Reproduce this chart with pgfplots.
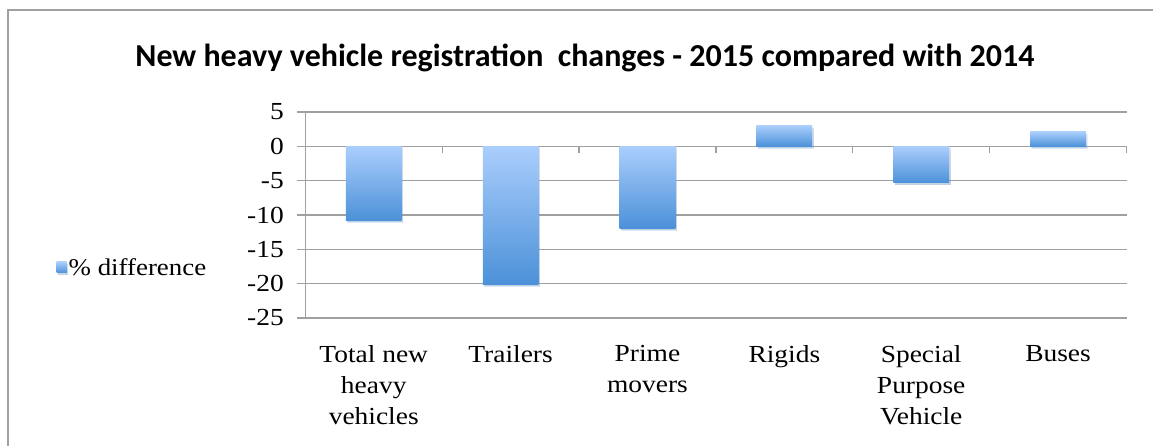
\documentclass[border=0pt]{standalone}
\usepackage{fontspec}
\setmainfont{Liberation Serif}[FakeStretch=1.12]
\newfontfamily\titlefont{Carlito}
\usepackage{pgfplots}
\pgfplotsset{compat=1.18}
\usetikzlibrary{shadows}
\definecolor{gridgray}{RGB}{160,160,160}
\definecolor{bartop}{RGB}{170,206,252}
\definecolor{barbot}{RGB}{76,145,217}
\pgfplotsset{
  mybar/.style={ybar, bar width=0.407, bar shift=0pt, draw=none, top color=bartop, bottom color=barbot,
    drop shadow={opacity=0.22, shadow xshift=1.5pt, shadow yshift=-2pt}},
}
\begin{document}
\begin{tikzpicture}[x=1pt,y=1pt]
\path[use as bounding box] (0,0) rectangle (1153,446);
\draw[gridgray, line width=2pt] (8.3,0) -- (8.3,436) -- (1153,436);
\node[anchor=base, font=\titlefont\bfseries\fontsize{32}{36}\selectfont] at (585,379.3) {New heavy vehicle registration\ \ changes - 2015 compared with 2014};
\begin{axis}[
  at={(305.3pt,128pt)}, anchor=south west,
  scale only axis, width=821.2pt, height=206pt,
  xmin=-0.5, xmax=5.5, ymin=-25, ymax=5,
  ytick={-25,-20,...,5},
  xtick={0,1,2,3,4,5},
  xticklabels={{Total new\\heavy\\vehicles},{Trailers},{Prime\\movers},{Rigids},{Special\\Purpose\\Vehicle},{Buses}},
  xticklabel style={align=center, anchor=north, yshift=-24pt, font=\fontsize{24.5}{31}\selectfont},
  yticklabel style={font=\fontsize{24.5}{29}\selectfont, xshift=-10pt},
  /pgf/number format/assume math mode=true,
  axis x line*=bottom,
  x axis line style={draw=none},
  xtick style={draw=none},
  axis y line*=left,
  y axis line style={gridgray, line width=1.3pt},
  ymajorgrids, grid style={gridgray, line width=1.3pt},
  major tick length=8pt,
  ytick style={gridgray, line width=1.3pt},
  ytick align=outside,
  legend style={at={(-0.118,0.243)}, anchor=east, draw=none, fill=none, font=\fontsize{24}{29}\selectfont, inner sep=0pt},
  legend image code/.code={\fill[barbot!70!bartop] (0pt,-5pt) rectangle (10pt,6pt);},
  clip=false,
]
\addplot[mybar] coordinates {(0,-10.8)};
\addlegendentry{\% difference}
\addplot[mybar, forget plot] coordinates {(1,-20.1)};
\addplot[mybar, forget plot] coordinates {(2,-11.9)};
\addplot[mybar, forget plot] coordinates {(3,3.0)};
\addplot[mybar, forget plot] coordinates {(4,-5.3)};
\addplot[mybar, forget plot] coordinates {(5,2.1)};
\pgfplotsinvokeforeach{-0.5,0.5,1.5,2.5,3.5,4.5,5.5}{\draw[gridgray, line width=1.3pt] (axis cs:#1,0) -- ++(0pt,-7pt);}
\end{axis}
\end{tikzpicture}
\end{document}
